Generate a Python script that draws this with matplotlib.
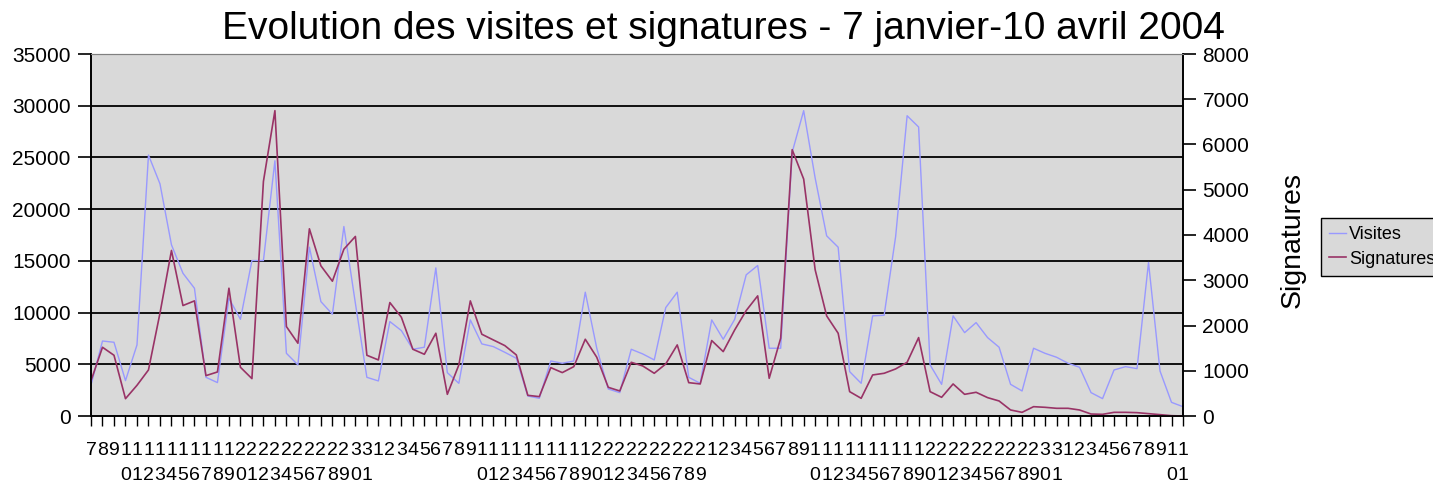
import matplotlib
matplotlib.use("Agg")
import matplotlib.pyplot as plt

plt.rcParams['font.family'] = ['Liberation Sans', 'DejaVu Sans']

# jours du 7 janvier au 11 avril 2004
jours = list(range(7, 32)) + list(range(1, 30)) + list(range(1, 32)) + list(range(1, 12))

visites = [3000, 7250, 7130, 3420, 6870, 25230, 22450, 16550, 13800, 12350,
           3740, 3230, 11390, 9350, 15030, 15030, 24680, 6060, 4940, 16320,
           11060, 9840, 18320, 10900, 3740, 3390, 9130, 8260, 6450, 6650,
           14320, 4190, 3160, 9290, 6970, 6710, 6160, 5580, 1935, 1710,
           5320, 5100, 5320, 11970, 6550, 2610, 2260, 6450, 6000, 5420,
           10480, 11970, 3740, 3160, 9290, 7420, 9350, 13650, 14550, 6550,
           6550, 25500, 29520, 23000, 17420, 16320, 4290, 3160, 9680, 9740,
           17350, 29030, 27940, 4940, 3060, 9680, 8060, 9030, 7580, 6650,
           3060, 2420, 6550, 6060, 5680, 5100, 4710, 2260, 1680, 4450,
           4770, 4580, 14840, 4350, 1320, 900]

signatures = [780, 1519, 1342, 383, 678, 1018, 2271, 3658, 2441, 2544,
              892, 973, 2824, 1077, 826, 5184, 6748, 1976, 1608, 4137,
              3319, 2979, 3687, 3968, 1342, 1239, 2507, 2183, 1475, 1364,
              1829, 479, 1128, 2544, 1807, 1681, 1556, 1350, 457, 428,
              1069, 959, 1091, 1696, 1298, 634, 553, 1187, 1106, 944,
              1150, 1571, 737, 708, 1667, 1423, 1903, 2330, 2655, 833,
              1720, 5885, 5236, 3230, 2212, 1829, 538, 391, 907, 944,
              1040, 1187, 1733, 538, 413, 708, 479, 524, 406, 332,
              133, 81, 206, 192, 170, 170, 133, 44, 37, 81,
              81, 74, 52, 30, 7, 0]

x = list(range(len(jours)))
labels = ["\n".join(str(j)) for j in jours]

fig = plt.figure(figsize=(14.33, 4.86), dpi=100)
ax = fig.add_axes([91 / 1433, 1 - 416 / 486, (1183 - 91) / 1433, (416 - 54) / 486])
ax.set_facecolor('#D9D9D9')
ax2 = ax.twinx()

l1, = ax.plot(x, visites, color='#9999FF', lw=1)
l2, = ax2.plot(x, signatures, color='#993366', lw=1.2)

ax.set_xlim(0, len(jours) - 1)
ax.set_ylim(0, 35000)
ax2.set_ylim(0, 8000)
ax.set_yticks(range(0, 35001, 5000))
ax2.set_yticks(range(0, 8001, 1000))
ax.set_xticks(x)
ax.set_xticklabels(labels, fontsize=14, linespacing=1.55)

for y in range(5000, 35000, 5000):
    ax.axhline(y, color='black', lw=1.3, zorder=1)

ax.tick_params(axis='y', labelsize=15, length=9.5, direction='out', width=1.2, pad=5)
ax2.tick_params(axis='y', labelsize=15, length=9, direction='out', width=1.2, pad=5)
ax.tick_params(axis='x', length=7.5, direction='out', width=1, pad=11.5)

for a in (ax, ax2):
    a.spines['top'].set_color('#808080')
    a.spines['top'].set_linewidth(0.8)
    a.spines['left'].set_linewidth(1.2)
    a.spines['right'].set_linewidth(1.2)
    a.spines['bottom'].set_linewidth(1.2)

fig.text(723 / 1433, 1 - 29 / 486, "Evolution des visites et signatures - 7 janvier-10 avril 2004",
         ha='center', va='center', fontsize=28)
fig.text(1293 / 1433, 1 - 240 / 486, "Signatures", rotation=90, ha='center', va='center', fontsize=20.5)

leg = fig.legend([l1, l2], ["Visites", "Signatures"], loc='center left',
                 bbox_to_anchor=(1321 / 1433, 1 - 247 / 486), fontsize=13,
                 frameon=True, fancybox=False, handlelength=0.95, handletextpad=0.15,
                 borderpad=0.45, labelspacing=0.4, borderaxespad=0)
leg.get_frame().set_facecolor('#D9D9D9')
leg.get_frame().set_edgecolor('black')
leg.get_frame().set_alpha(1)

fig.savefig("out.png", dpi=100)
